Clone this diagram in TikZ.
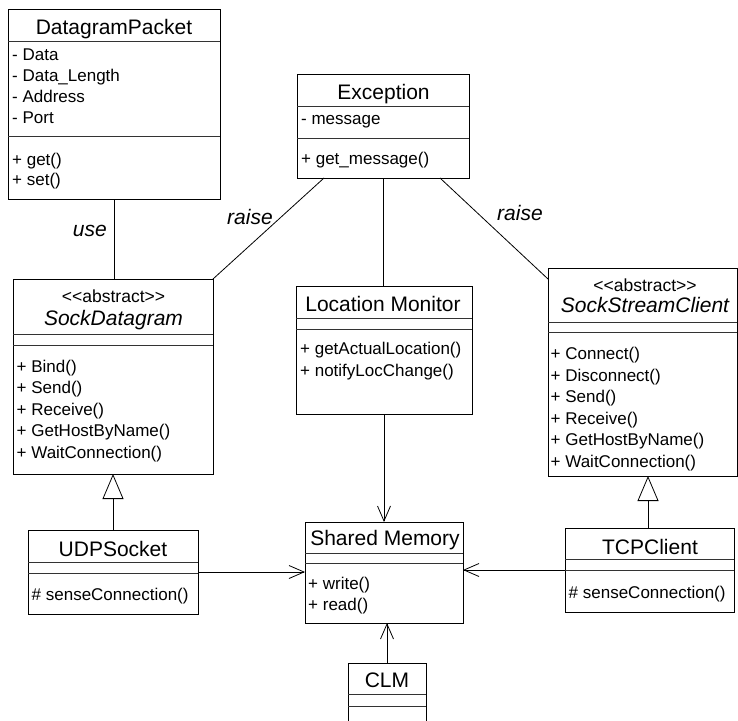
\documentclass[tikz,border=0pt]{standalone}
\usepackage{fontspec}
\setmainfont{Liberation Sans}
\usetikzlibrary{arrows.meta}
\tikzset{
  classbox/.style={draw, line width=1pt, inner sep=0pt, outer sep=0pt},
  sepline/.style={line width=0.9pt, draw=black!80},
  ctitle/.style={font=\fontsize{21}{25}\selectfont, inner sep=0pt, anchor=base},
  ititle/.style={font=\fontsize{21}{25}\selectfont\itshape, inner sep=0pt, anchor=base},
  stereo/.style={font=\fontsize{17.5}{20}\selectfont, inner sep=0pt, anchor=base},
  item/.style={font=\fontsize{17}{21}\selectfont, inner sep=0pt, anchor=base west},
  lbl/.style={font=\fontsize{21}{25}\selectfont\itshape, inner sep=0pt},
  assoc/.style={line width=0.8pt},
  navi/.style={line width=0.8pt, -{Straight Barb[length=15pt,width=13pt,line width=0.8pt]}},
  gener/.style={line width=0.8pt, -{Triangle[open,length=25pt,width=21pt,line width=0.8pt]}}
}
\newcommand{\abst}{<\kern0pt<abstract>\kern0pt>}
% name, x1, y1, x2, y2, sep1, sep2
\newcommand{\umlbox}[7]{%
  \node[classbox, minimum width={#4-#2}, minimum height={#5-#3}] (#1) at ({(#2+#4)/2},{(#3+#5)/2}) {};
  \draw[sepline] (#2,#6) -- (#4,#6);
  \draw[sepline] (#2,#7) -- (#4,#7);
}
% prefix, x, first baseline, step, list
\newcommand{\umlitems}[5]{%
  \foreach \t [count=\i] in {#5} {\node[item] (#1\i) at (#2,{#3+(\i-1)*#4}) {\t};}
}
\begin{document}
\begin{tikzpicture}[x=1pt,y=-1pt]
\useasboundingbox (0,0) rectangle (738,720);
\clip (0,0) rectangle (738,720);

% DatagramPacket
\umlbox{dp}{8}{9}{220}{199}{41}{136}
\node[ctitle] (dpt) at (114,34) {DatagramPacket};
\umlitems{dpa}{12}{60}{21}{- Data, - Data\_Length, - Address, - Port}
\umlitems{dpm}{12}{165}{20.5}{+ get(), + set()}

% Exception
\umlbox{ex}{297}{74}{469}{178}{106}{138}
\node[ctitle] (ext) at (383.5,99) {Exception};
\umlitems{exa}{301}{124}{21}{- message}
\umlitems{exm}{301}{164.5}{21}{+ get\_message()}

% SockDatagram
\umlbox{sd}{13}{279}{213}{474}{334}{345}
\node[stereo] (sds) at (113.5,302) {\abst};
\node[ititle] (sdt) at (113.5,325) {SockDatagram};
\umlitems{sdm}{16.5}{372.5}{21.4}{+ Bind(), + Send(), + Receive(), + GetHostByName(), + WaitConnection()}

% Location Monitor
\umlbox{lm}{296}{286}{472}{414}{318}{329}
\node[ctitle] (lmt) at (383,311) {Location Monitor};
\umlitems{lmm}{300}{354.5}{22}{+ getActualLocation(), + notifyLocChange()}

% SockStreamClient
\umlbox{sc}{548}{268}{737}{476}{322}{332}
\node[stereo] (scs) at (645,291) {\abst};
\node[ititle] (sct) at (645,312.5) {SockStreamClient};
\umlitems{scm}{550.5}{359.5}{21.6}{+ Connect(), + Disconnect(), + Send(), + Receive(), + GetHostByName(), + WaitConnection()}

% UDPSocket
\umlbox{ud}{28}{530}{198}{614}{562}{573}
\node[ctitle] (udt) at (113,556) {UDPSocket};
\umlitems{udm}{31.5}{600.5}{21}{\# senseConnection()}

% Shared Memory
\umlbox{sm}{305}{522}{463}{623}{553}{563}
\node[ctitle] (smt) at (385,545) {Shared Memory};
\umlitems{smm}{308}{589.5}{21}{+ write(), + read()}

% TCPClient
\umlbox{tc}{565}{528}{734}{612}{559}{570}
\node[ctitle] (tct) at (650,554) {TCPClient};
\umlitems{tcm}{568.5}{598}{21}{\# senseConnection()}

% CLM
\umlbox{clm}{348}{663}{426}{745}{694}{706}
\node[ctitle] (clmt) at (387,687) {CLM};

% connectors
\draw[assoc] (dp.south) -- (dp.south |- sd.north);
\node[lbl, anchor=base east] (use) at (107,236.5) {use};
\draw[assoc] ([xshift=-59pt]ex.south) -- (sd.north east);
\node[lbl, anchor=base west] (raise1) at (227,224) {raise};
\draw[assoc] ([xshift=57pt]ex.south) -- ([yshift=-11pt]sc.north west);
\node[lbl, anchor=base west] (raise2) at (497,220) {raise};
\draw[assoc] (ex.south) -- (ex.south |- lm.north);
\draw[navi] (lm.south) -- (lm.south |- sm.north);
\draw[navi] (ud.east) -- (ud.east -| sm.west);
\draw[navi] (tc.west) -- (tc.west -| sm.east);
\draw[navi] (clm.north) -- (clm.north |- sm.south);
\draw[gener] (ud.north) -- (ud.north |- sd.south);
\draw[gener] ([xshift=-1.5pt]tc.north) -- ([xshift=-1.5pt]tc.north |- sc.south);
\end{tikzpicture}
\end{document}
